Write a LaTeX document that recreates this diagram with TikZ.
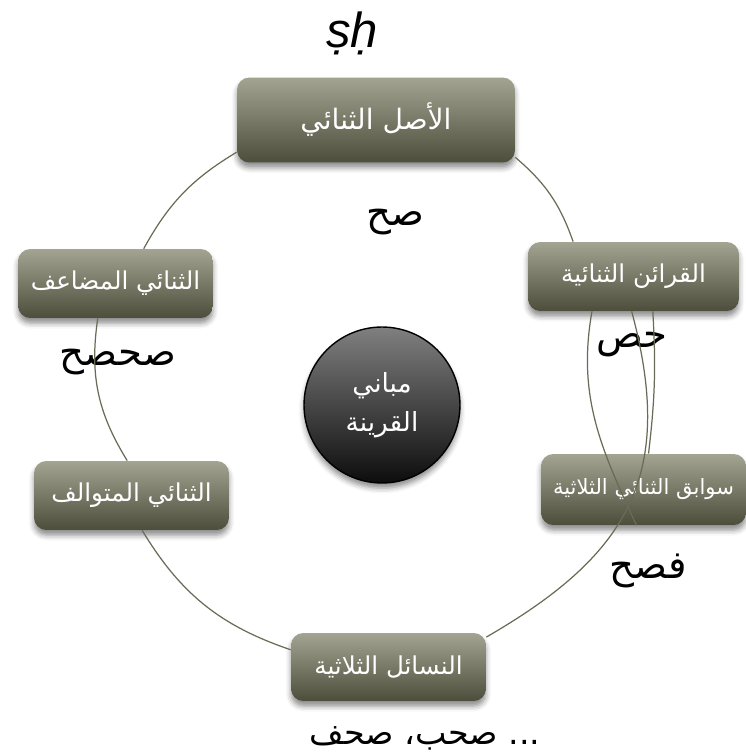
\documentclass[tikz,border=0pt]{standalone}
\usepackage{fontspec}
\setmainfont{Liberation Sans}
\newfontfamily\arabicfont[Script=Arabic]{DejaVu Sans}
\TeXXeTstate=1
\usetikzlibrary{shadows.blur}
\definecolor{boxtop}{HTML}{A3A592}
\definecolor{boxbot}{HTML}{4C4E3B}
\definecolor{ringline}{HTML}{6A6B56}
\begin{document}
\begin{tikzpicture}[x=0.02cm, y=0.02cm,
	box/.style={rounded corners=7pt, top color=boxtop, bottom color=boxbot, text=white, inner sep=0pt, minimum width=3.9cm, minimum height=1.38cm, font=\arabicfont\fontsize{14}{17}\selectfont, blur shadow={shadow xshift=0pt, shadow yshift=-3pt, shadow blur radius=3pt, shadow opacity=45}},
	ring/.style={ringline, line width=0.7pt},
	word/.style={font=\arabicfont\fontsize{22}{26}\selectfont}]
	\useasboundingbox (0,0) rectangle (746,752);
	\node [box, minimum width=5.56cm, minimum height=1.7cm, font=\arabicfont\fontsize{16}{19}\selectfont] (asl) at (376,632) {\beginR الأصل الثنائي\endR};
	\node [box] (mudaaf) at (115.5,468.5) {\beginR الثنائي المضاعف\endR};
	\node [box, minimum width=4.22cm] (qaraain) at (633.5,475.5) {\beginR القرائن الثنائية\endR};
	\node [box, minimum width=4.1cm, minimum height=1.42cm, font=\arabicfont\fontsize{12}{15}\selectfont] (sawabiq) at (643.5,262.5) {\beginR سوابق الثنائي الثلاثية\endR};
	\node [box] (mutawalif) at (131.5,256.5) {\beginR الثنائي المتوالف\endR};
	\node [box, minimum height=1.36cm] (nasail) at (388.5,85) {\beginR النسائل الثلاثية\endR};
	\node [circle, minimum size=3.12cm, draw=black, line width=0.8pt, top color=black!50, bottom color=black!95, text=white, align=center, font=\arabicfont\fontsize{15}{22}\selectfont, blur shadow={shadow xshift=0pt, shadow yshift=-3pt, shadow blur radius=3pt, shadow opacity=45}] (mabani) at (382,347) {\beginR مباني\endR\\\beginR القرينة\endR};
	\node [font=\fontsize{28}{32}\selectfont\itshape] (sh) at (352,719) {ṣḥ};
	\node [word] (sah) at (395,530) {\beginR صح\endR};
	\node [word] (sahsah) at (118,390) {\beginR صحصح\endR};
	\node [word] (has) at (632,407) {\beginR حص\endR};
	\node [word] (fasah) at (648,181) {\beginR فصح\endR};
	\node [word, font=\arabicfont\fontsize{19}{23}\selectfont] (sahab) at (425,14) {\beginR صحب، صحف\endR{} ...};
	\draw [ring] (asl.193) to [bend right=15] (mudaaf.51);
	\draw [ring] (mudaaf.243) to [bend right=20] (mutawalif.97);
	\draw [ring] (mutawalif.287) to [bend right=20] (nasail.170);
	\draw [ring] (nasail.17) to [out=30, in=-75, looseness=1.2] (qaraain.267);
	\draw [ring] (qaraain.220) to [out=-100, in=115] (sawabiq.259);
	\draw [ring] (qaraain.299) to [bend left=5] (sawabiq.82);
	\draw [ring] (asl.345) to [bend left=15] (qaraain.150);
\end{tikzpicture}
\end{document}
